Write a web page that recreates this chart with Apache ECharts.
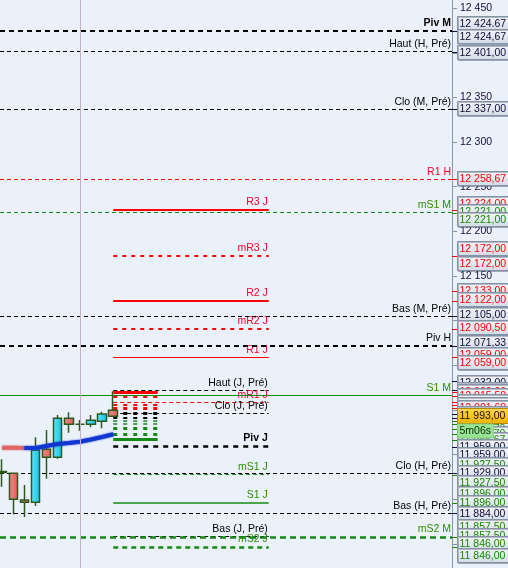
<!DOCTYPE html>
<html><head><meta charset="utf-8">
<script src="https://cdn.jsdelivr.net/npm/echarts@6/dist/echarts.min.js"></script>
<style>html,body{margin:0;padding:0;background:#ebf1fb}#c{width:508px;height:568px}</style>
</head><body><div id="c"></div>
<script>
// ---------- DATA ----------
const categories = ['14:15','14:30','14:45','15:00','15:15','15:30','15:45','16:00','16:15','16:30','16:45','17:00','17:15','17:30','17:45','18:00','18:15','18:30','18:45','19:00','19:15','19:30','19:45','20:00','20:15','20:30','20:45','21:00','21:15','21:30','21:45','22:00','22:15','22:30','22:45','23:00','23:15','23:30','23:45','00:00','00:15'];
// [open, close, low, high]
const candles = [
  [11931, 11930, 11914, 11944.7],
  [11929, 11900, 11883, 11929.5],
  [11899, 11896.5, 11880, 11916],
  [11896.5, 11955, 11892.4, 11969.3],
  [11956, 11947, 11923, 11977.5],
  [11947, 11990.6, 11945.3, 11994.3],
  [11990.6, 11984, 11974.5, 11997.3],
  [11984, 11984, 11976.7, 11988.7],
  [11984, 11988.3, 11980.5, 11994.3],
  [11987.2, 11995.4, 11979.4, 11998],
  [11999.6, 11993, 11992, 12021]
];
const maFalling = [11957.5, 11957.5, 11957.3];
const maRising  = ['-', '-', 11957.3, 11957.4, 11959.6, 11961.8, 11963, 11964.4, 11966.8, 11969.6, 11972.7];
const crossIndex = 7;

const yTicks = [11850, 11900, 11950, 12000, 12050, 12100, 12150, 12200, 12250, 12300, 12350, 12400, 12450];

const fullNames  = ['Piv M','Haut (H, Pré)','Clo (M, Pré)','R1 H','mS1 M','Bas (M, Pré)','Piv H','S1 M','Clo (H, Pré)','Bas (H, Pré)','mS2 M'];
const fullValues = [12424.67, 12401, 12337, 12258.67, 12221, 12105, 12071.33, 12016, 11929, 11884, 11857.5];

const dayStart = 10, dayEnd = 24;
const dayNames  = ['R3 J','mR3 J','R2 J','mR2 J','R1 J','Haut (J, Pré)','mR1 J','Clo (J, Pré)','Piv J','mS1 J','S1 J','Bas (J, Pré)','mS2 J'];
const dayValues = [12224, 12172, 12122, 12090.5, 12059, 12022, 12008.5, 11995.5, 11959, 11927.5, 11896, 11858.5, 11846];

const blockStart = 10, blockEnd = 14;
const blockValues = [12020, 12015.5, 12006, 12001.6, 11996, 11991.3, 11987.6, 11983.9, 11978.7, 11972.7, 11966.6];

const boxValues = [12424.67, 12424.67, 12401, 12337, 12258.67, 12224, 12221, 12221, 12172, 12172, 12133, 12122, 12105, 12090.5, 12071.33, 12059, 12059, 12032, 12022, 12020, 12016, 12015.5, 12008.5, 12006, 12001.6, 11995.5, 11991.3, 11987.6, 11983.9, 11978.7, 11972.7, 11966.67, 11959, 11959, 11927.5, 11929, 11927.5, 11896, 11896, 11884, 11857.5, 11857.5, 11846, 11846];
const boxTexts  = ['12 424.67','12 424,67','12 401,00','12 337,00','12 258,67','12 224,00','12 221,00','12 221,00','12 172,00','12 172,00','12 133,00','12 122,00','12 105,00','12 090,50','12 071,33','12 059,00','12 059,00','12 032,00','12 022,00','12 020,00','12 016,00','12 015,50','12 008,50','12 006,00','12 001,60','11 995,50','11 991,30','11 987,60','11 983,90','11 978,70','11 972,70','11 966,67','11 959,00','11 959,00','11 927,50','11 929,00','11 927,50','11 896,00','11 896,00','11 884,00','11 857,50','11 857,50','11 846,00','11 846,00'];
const boxKinds  = ['k','k','k','k','r','r','g','g','r','r','r','r','k','r','k','r','r','k','k','r','g','r','r','r','r','k','k','g','g','g','g','g','k','k','g','k','g','g','g','k','g','g','g','g'];
const lastPrice = 11993;
const lastPriceText = '11 993,00';
const countdownText = '5m06s';

// ---------- STYLES ----------
const RED = '#ff0000', GRN = '#138a13', BLK = '#000000';
const LRED = '#f4002a', LGRN = '#2f8e00';
const fullStyles = [
  {c:BLK,w:2,d:[5,4],lc:BLK,b:true},
  {c:BLK,w:1,d:[4,3],lc:BLK},
  {c:BLK,w:1,d:[4,3],lc:BLK},
  {c:RED,w:1,d:[4,3],lc:LRED},
  {c:GRN,w:1,d:[4,3],lc:LGRN},
  {c:BLK,w:1,d:[4,3],lc:BLK},
  {c:BLK,w:2,d:[5,4],lc:BLK},
  {c:GRN,w:1,d:null,lc:LGRN},
  {c:BLK,w:1,d:[4,3],lc:BLK},
  {c:BLK,w:1,d:[4,3],lc:BLK},
  {c:GRN,w:2.5,d:[6,4],lc:LGRN}
];
const dayStyles = [
  {c:RED,w:2,d:null,lc:LRED},
  {c:RED,w:2,d:[4,5],lc:LRED},
  {c:RED,w:2,d:null,lc:LRED},
  {c:RED,w:2,d:[4,5],lc:LRED},
  {c:RED,w:1,d:null,lc:LRED},
  {c:BLK,w:1,d:[4,3],lc:BLK},
  {c:RED,w:1,d:[4,3],lc:LRED},
  {c:BLK,w:1,d:[4,3],lc:BLK},
  {c:BLK,w:2.5,d:[5,5],lc:BLK,b:true},
  {c:GRN,w:1,d:[4,3],lc:LGRN},
  {c:GRN,w:1.5,d:null,lc:LGRN},
  {c:BLK,w:1,d:[4,3],lc:BLK},
  {c:GRN,w:2.5,d:[5,4],lc:LGRN}
];
const blockStyles = [
  {c:RED,w:3,d:null},{c:RED,w:3,d:[4,6]},{c:RED,w:2,d:[4,6]},{c:RED,w:3,d:[4,6]},
  {c:BLK,w:3,d:[4,6]},{c:BLK,w:2,d:[4,6]},
  {c:GRN,w:1.5,d:[4,6]},{c:GRN,w:1.5,d:[4,6]},{c:GRN,w:3,d:[4,6]},{c:GRN,w:3,d:[4,6]},{c:GRN,w:3,d:null}
];
const boxNudge = [-7,6,1,0,0,-6,-1,7.5,-7.5,7.5,0,-1,-1.5,-1,-3,-2,6,2,0,0,0,0,0,0,0,0,0,0,0,0,0,0,0,8.5,-9.5,0,8,-8.5,0,0.5,-10,-1,-3,9];
const kindColor = {k:'#120a38', r:'#ff0000', g:'#168a00'};
const FONT = '"Liberation Sans", Arial, sans-serif';
const FS = '10.5px ';

function crisp(y, w){ return (Math.round(w) % 2 === 1) ? Math.round(y - 0.5) + 0.5 : Math.round(y); }

function levelItem(x1, x2, y, st, name){
  const yy = crisp(y, st.w);
  const ch = [{type:'line', shape:{x1:x1, y1:yy, x2:x2, y2:yy}, style:{stroke:st.c, lineWidth:st.w, lineDash:st.d || null}}];
  if (name) ch.push({type:'text', style:{text:name, x:x2-1, y:yy-Math.ceil(st.w/2)-1, align:'right', verticalAlign:'bottom', fill:st.lc, font:(st.b?'bold ':'')+FS+FONT}});
  return {type:'group', children:ch};
}

const chart = echarts.init(document.getElementById('c'), null, {renderer:'canvas'});
chart.setOption({
  animation:false,
  backgroundColor:'#ebf1fb',
  grid:{left:-3.4, right:56, top:0, bottom:0, containLabel:false, outerBoundsMode:'none'},
  xAxis:{type:'category', data:categories, boundaryGap:true, show:false},
  yAxis:{type:'value', position:'right', min:11822.9, max:12459.2,
    splitLine:{show:false},
    axisLine:{show:true, lineStyle:{color:'#8597ab', width:1}},
    axisTick:{show:true, length:5, lineStyle:{color:'#8597ab'}, customValues:yTicks},
    axisLabel:{customValues:yTicks, margin:8, color:'#180c3c', fontSize:10.5, fontFamily:'Liberation Sans',
      formatter:v=>String(v).replace(/\B(?=(\d{3})+(?!\d))/g,' ')}
  },
  series:[
    {type:'line', data:[], z:0, silent:true,
     markLine:{symbol:'none', silent:true, label:{show:false}, lineStyle:{color:'#c4b0c8', type:'solid', width:1}, data:[{xAxis:crossIndex}]}},
    {type:'custom', z:1, silent:true,
     data:dayValues.map(v=>[dayStart, v]),
     renderItem:(p, api)=>{
       const v = api.value(1);
       const a = api.coord([dayStart, v]), b = api.coord([dayEnd, v]);
       return levelItem(a[0], b[0], a[1], dayStyles[p.dataIndex], dayNames[p.dataIndex]);
     }},
    {type:'custom', z:1, silent:true,
     data:blockValues.map(v=>[blockStart, v]),
     renderItem:(p, api)=>{
       const v = api.value(1);
       const a = api.coord([blockStart, v]), b = api.coord([blockEnd, v]);
       return levelItem(a[0], b[0], a[1], blockStyles[p.dataIndex], null);
     }},
    {type:'custom', z:2, silent:true,
     data:fullValues.map(v=>[0, v]),
     renderItem:(p, api)=>{
       const cs = p.coordSys;
       const y = api.coord([0, api.value(1)])[1];
       return levelItem(0, cs.x + cs.width, y, fullStyles[p.dataIndex], fullNames[p.dataIndex]);
     }},
    {type:'candlestick', z:3, data:candles, barWidth:9,
     itemStyle:{
       color:new echarts.graphic.LinearGradient(0,0,1,0,[{offset:0,color:'#5fe9ff'},{offset:1,color:'#16bde9'}]),
       color0:new echarts.graphic.LinearGradient(0,0,1,0,[{offset:0,color:'#f38a86'},{offset:1,color:'#dd5e5e'}]),
       borderColor:'#2c5a1c', borderColor0:'#2c5a1c', borderWidth:1.5
     }},
    {type:'line', z:4, data:maFalling, symbol:'none', silent:true,
     lineStyle:{color:'#e06666', width:4, shadowBlur:2, shadowColor:'#e06666'}},
    {type:'line', z:4, data:maRising, symbol:'none', silent:true,
     lineStyle:{color:'#1236d2', width:4, shadowBlur:2, shadowColor:'#1236d2'}},
    {type:'custom', z:5, silent:true,
     data:boxValues.map(v=>[0, v]),
     renderItem:(p, api)=>{
       const i = p.dataIndex, cs = p.coordSys;
       const ax = cs.x + cs.width;
       const yN = api.coord([0, api.value(1)])[1];
       const yc = Math.round(yN + boxNudge[i]);
       const col = kindColor[boxKinds[i]];
       const ty = Math.round(yN) + 0.5;
       return {type:'group', children:[
         {type:'line', shape:{x1:ax, y1:ty, x2:ax+5, y2:ty}, style:{stroke:col, lineWidth:1}},
         {type:'rect', shape:{x:ax+5.5, y:yc-7.5, width:58, height:14},
          style:{fill:new echarts.graphic.LinearGradient(0,0,0,1,[{offset:0,color:'#f3f6fa'},{offset:1,color:'#d3dbe6'}]),
                 stroke:'#8392a6', lineWidth:1, shadowOffsetX:1, shadowOffsetY:1, shadowBlur:0, shadowColor:'rgba(70,80,100,0.35)'}},
         {type:'text', style:{text:boxTexts[i], x:ax+7.5, y:yc, verticalAlign:'middle', fill:col, font:FS+FONT}}
       ]};
     }},
    {type:'custom', z:6, silent:true,
     data:[[0, lastPrice]],
     renderItem:(p, api)=>{
       const cs = p.coordSys, ax = cs.x + cs.width;
       const yc = Math.round(api.coord([0, api.value(1)])[1]);
       return {type:'group', children:[
         {type:'rect', shape:{x:ax+5.5, y:yc-7.5, width:58, height:15},
          style:{fill:new echarts.graphic.LinearGradient(0,0,0,1,[{offset:0,color:'#ffd84c'},{offset:1,color:'#f0b000'}]), stroke:'#b08800', lineWidth:1}},
         {type:'text', style:{text:lastPriceText, x:ax+7.5, y:yc, verticalAlign:'middle', fill:'#1a1000', font:FS+FONT}},
         {type:'rect', shape:{x:ax+5.5, y:yc+8, width:36, height:14},
          style:{fill:'#97e492', stroke:'#86cc80', lineWidth:1}},
         {type:'text', style:{text:countdownText, x:ax+7.5, y:yc+15, verticalAlign:'middle', fill:'#0c2a0c', font:FS+FONT}}
       ]};
     }}
  ]
});
</script>
</body></html>
